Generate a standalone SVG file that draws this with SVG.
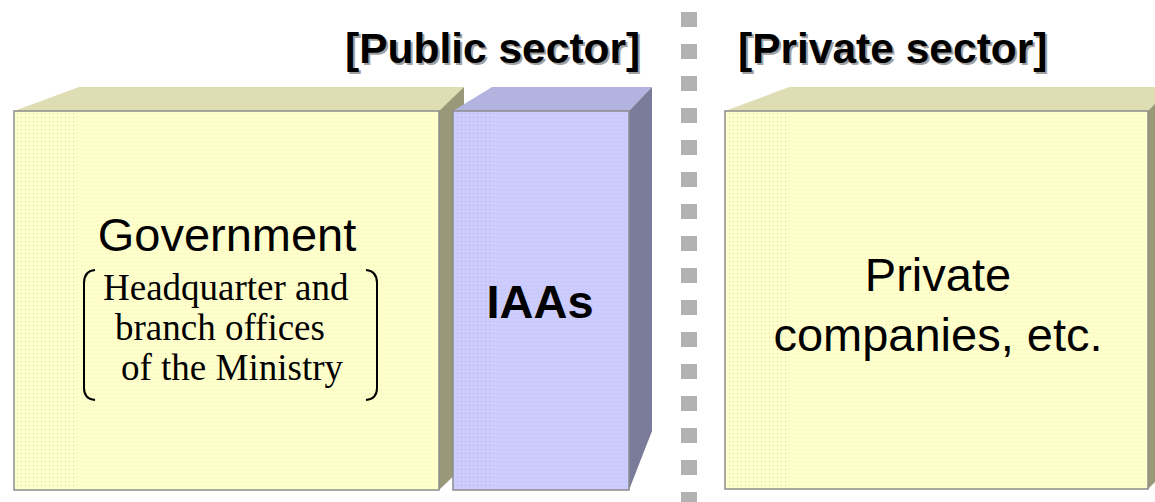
<svg xmlns="http://www.w3.org/2000/svg" width="1155" height="502" viewBox="0 0 1155 502">
  <defs>
    <pattern id="dots" width="4" height="4" patternUnits="userSpaceOnUse">
      <rect x="1" y="1" width="1" height="1" fill="#8a8a70"/>
    </pattern>
    <pattern id="dotsBlue" width="4" height="4" patternUnits="userSpaceOnUse">
      <rect x="1" y="1" width="1" height="1" fill="#7070a0"/>
    </pattern>
    <style>
      .front-y { fill: #FFFFCC; stroke: #8c8c8c; stroke-width: 1.5; }
      .top-y { fill: #DEDDB3; }
      .side-y { fill: #999979; }
      .front-b { fill: #CCCCFF; stroke: #8c8c8c; stroke-width: 1.5; }
      .top-b { fill: #B3B3E0; }
      .side-b { fill: #7A7A99; }
      .tex { opacity: 0.15; }
      .tex-strong { opacity: 0.25; }
      .sep { fill: #B2B2B2; }
      .head { font-family: "Liberation Sans", Arial, sans-serif; font-weight: bold; font-size: 42.5px; }
      .label { font-family: "Liberation Sans", Arial, sans-serif; font-size: 47px; fill: #000; text-anchor: middle; }
      .serif { font-family: "Liberation Serif", "Times New Roman", serif; font-size: 37px; fill: #000; }
      .bracket { fill: none; stroke: #000; stroke-width: 2; }
    </style>
  </defs>

  <!-- dashed divider between the two sectors -->
  <g id="divider">
    <rect class="sep" x="681" y="12" width="16" height="15"/>
    <rect class="sep" x="681" y="44" width="16" height="15"/>
    <rect class="sep" x="681" y="76" width="16" height="15"/>
    <rect class="sep" x="681" y="108" width="16" height="15"/>
    <rect class="sep" x="681" y="140" width="16" height="15"/>
    <rect class="sep" x="681" y="172" width="16" height="15"/>
    <rect class="sep" x="681" y="204" width="16" height="15"/>
    <rect class="sep" x="681" y="236" width="16" height="15"/>
    <rect class="sep" x="681" y="268" width="16" height="15"/>
    <rect class="sep" x="681" y="300" width="16" height="15"/>
    <rect class="sep" x="681" y="332" width="16" height="15"/>
    <rect class="sep" x="681" y="364" width="16" height="15"/>
    <rect class="sep" x="681" y="396" width="16" height="15"/>
    <rect class="sep" x="681" y="428" width="16" height="15"/>
    <rect class="sep" x="681" y="460" width="16" height="15"/>
    <rect class="sep" x="681" y="492" width="16" height="15"/>
  </g>

  <!-- sector headings with drop shadow -->
  <g id="heading-public">
    <text class="head" x="347" y="65" fill="#a0a0a0">[Public sector]</text>
    <text class="head" x="345" y="63" fill="#000">[Public sector]</text>
  </g>
  <g id="heading-private">
    <text class="head" x="740" y="65" fill="#a0a0a0">[Private sector]</text>
    <text class="head" x="738" y="63" fill="#000">[Private sector]</text>
  </g>

  <!-- Government block -->
  <g id="government">
    <polygon class="top-y" points="14,111 79,87 464,87 439,111"/>
    <polygon class="side-y" points="439,111 464,87 464,466 439,490"/>
    <rect class="front-y" x="14" y="111" width="425" height="379"/>
    <rect class="tex" x="16" y="113" width="421" height="375" fill="url(#dots)"/>
    <rect class="tex-strong" x="16" y="113" width="60" height="375" fill="url(#dots)"/>
    <text class="label" x="227" y="251">Government</text>
    <path class="bracket" d="M95,270 Q84,271 84,283 L84,388 Q84,399 95,400"/>
    <path class="bracket" d="M366,270 Q377,271 377,283 L377,388 Q377,399 366,400"/>
    <text class="serif" x="103" y="300">Headquarter and</text>
    <text class="serif" x="115" y="340">branch offices</text>
    <text class="serif" x="121" y="380">of the Ministry</text>
  </g>

  <!-- IAAs block -->
  <g id="iaas">
    <polygon class="top-b" points="453,111 492,87 652,87 629,111"/>
    <polygon class="side-b" points="629,111 652,87 652,431 629,490"/>
    <rect class="front-b" x="453" y="111" width="176" height="379"/>
    <rect class="tex" x="455" y="113" width="172" height="375" fill="url(#dotsBlue)"/>
    <rect class="tex-strong" x="455" y="113" width="36" height="375" fill="url(#dotsBlue)"/>
    <text class="label" x="540" y="318" font-weight="bold">IAAs</text>
  </g>

  <!-- Private companies block -->
  <g id="private">
    <polygon class="top-y" points="725,111 789,87 1171,87 1148,111"/>
    <polygon class="side-y" points="1148,111 1171,87 1171,466 1148,489"/>
    <rect class="front-y" x="725" y="111" width="423" height="378"/>
    <rect class="tex" x="727" y="113" width="419" height="374" fill="url(#dots)"/>
    <rect class="tex-strong" x="727" y="113" width="60" height="374" fill="url(#dots)"/>
    <text class="label" x="938" y="291">Private</text>
    <text class="label" x="938" y="351">companies, etc.</text>
  </g>
</svg>
